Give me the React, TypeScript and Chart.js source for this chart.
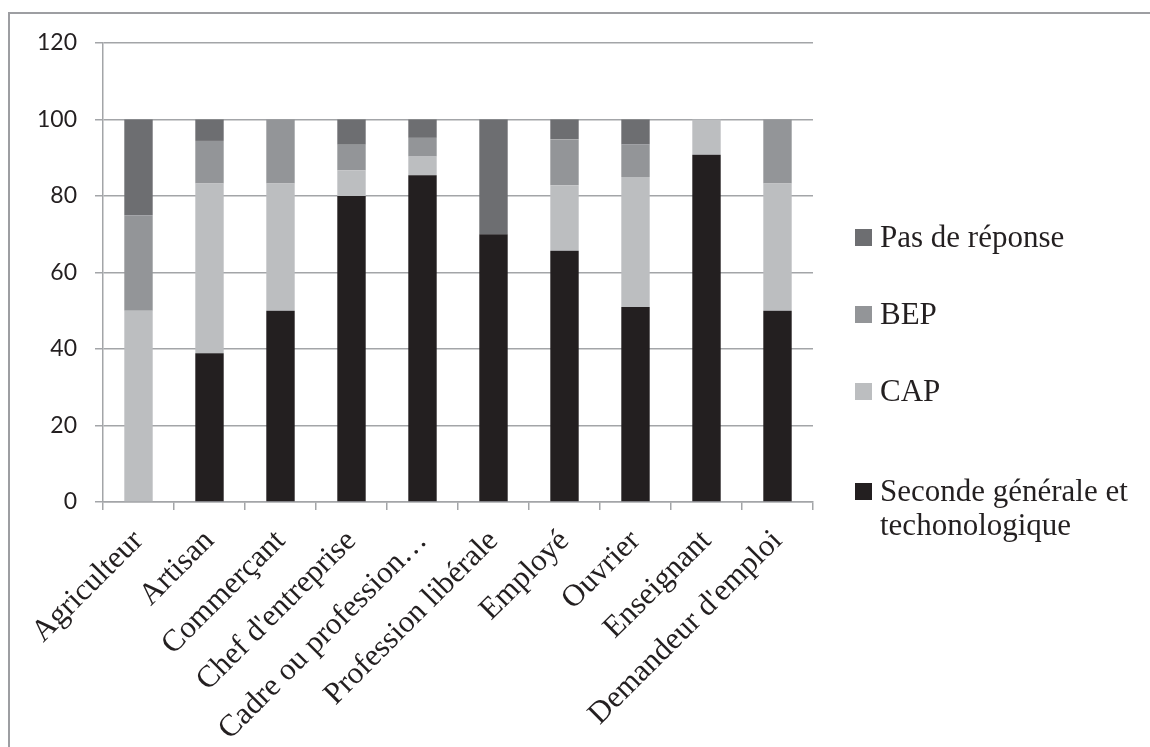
import React, { useEffect, useRef } from "react";
import { Chart, registerables } from "chart.js";

Chart.register(...registerables);

const categories = [
  "Agriculteur",
  "Artisan",
  "Commerçant",
  "Chef d'entreprise",
  "Cadre ou profession…",
  "Profession libérale",
  "Employé",
  "Ouvrier",
  "Enseignant",
  "Demandeur d'emploi",
];

const seconde = [0, 38.9, 50, 80, 85.4, 70, 65.7, 51, 90.8, 50];
const cap = [50, 44.4, 33.3, 6.7, 4.9, 0, 17.1, 34, 9.2, 33.3];
const bep = [25, 11.1, 16.7, 6.7, 4.9, 0, 12, 8.5, 0, 16.7];
const pas = [25, 5.6, 0, 6.6, 4.8, 30, 5.2, 6.5, 0, 0];

const seriesNames = ["Seconde générale et technologique", "CAP", "BEP", "Pas de réponse"];
const legendLines = [["Seconde générale et", "techonologique"], ["CAP"], ["BEP"], ["Pas de réponse"]];
const colors = ["#231f20", "#bcbec0", "#939598", "#6d6e71"];

const yMin = 0;
const yMax = 120;
const yStep = 20;

const GRID = "#a3a5a8";

const frameAndLegend = {
  id: "frameAndLegend",
  beforeDraw(chart: any) {
    const ctx = chart.ctx;
    ctx.save();
    ctx.strokeStyle = "#9d9ea2";
    ctx.lineWidth = 2;
    ctx.beginPath();
    ctx.moveTo(9, chart.height);
    ctx.lineTo(9, 13);
    ctx.lineTo(chart.width, 13);
    ctx.stroke();
    ctx.restore();
  },
  afterDraw(chart: any) {
    const ctx = chart.ctx;
    ctx.save();
    ctx.font = '31px "Liberation Serif"';
    ctx.textBaseline = "alphabetic";
    ctx.textAlign = "left";
    const baselines = [501, 401, 324, 247];
    const boxX = chart.chartArea.right + 42;
    const textX = boxX + 25;
    for (let i = chart.data.datasets.length - 1; i >= 0; i--) {
      const ds = chart.data.datasets[i];
      const b = baselines[i];
      ctx.fillStyle = ds.backgroundColor;
      ctx.fillRect(boxX, b - 18, 17, 17);
      ctx.fillStyle = "#231f20";
      const lines = legendLines[i];
      lines.forEach((t: string, k: number) => ctx.fillText(t, textX, b + k * 34));
    }
    ctx.restore();
  },
};

export default function App() {
  const ref = useRef<HTMLCanvasElement | null>(null);
  useEffect(() => {
    if (!ref.current) return;
    const datasets = [seconde, cap, bep, pas].map((d, i) => ({
      label: seriesNames[i],
      data: d,
      backgroundColor: colors[i],
      borderWidth: 0,
      categoryPercentage: 1,
      barPercentage: 0.4,
    }));
    const chart = new Chart(ref.current, {
      type: "bar",
      data: { labels: categories, datasets },
      options: {
        responsive: false,
        animation: false,
        devicePixelRatio: 1,
        layout: { padding: { left: 0, top: 43, right: 337, bottom: 0 } },
        plugins: { legend: { display: false }, tooltip: { enabled: false } },
        scales: {
          x: {
            stacked: true,
            afterFit: (s: any) => {
              s.height = 245;
            },
            grid: {
              display: true,
              drawOnChartArea: false,
              drawTicks: true,
              tickLength: 8,
              color: GRID,
              lineWidth: 1.5,
              offset: true,
            },
            border: { display: true, color: GRID, width: 1.5 },
            ticks: {
              autoSkip: false,
              minRotation: 45,
              maxRotation: 45,
              padding: 13,
              color: "#231f20",
              font: { family: '"Liberation Serif"', size: 31 },
            },
          },
          y: {
            stacked: true,
            min: yMin,
            max: yMax,
            afterFit: (s: any) => {
              s.width = 103;
            },
            grid: {
              color: GRID,
              lineWidth: 1.5,
              drawTicks: true,
              tickLength: 8,
            },
            border: { display: true, color: GRID, width: 1.5 },
            ticks: {
              stepSize: yStep,
              padding: 18,
              color: "#231f20",
              font: { family: "Lato", size: 23 },
            },
          },
        },
      },
      plugins: [frameAndLegend],
    });
    return () => chart.destroy();
  }, []);
  return (
    <div style={{ position: "absolute", left: 0, top: 0, width: 1150, height: 747 }}>
      <canvas ref={ref} width={1150} height={747} />
    </div>
  );
}
